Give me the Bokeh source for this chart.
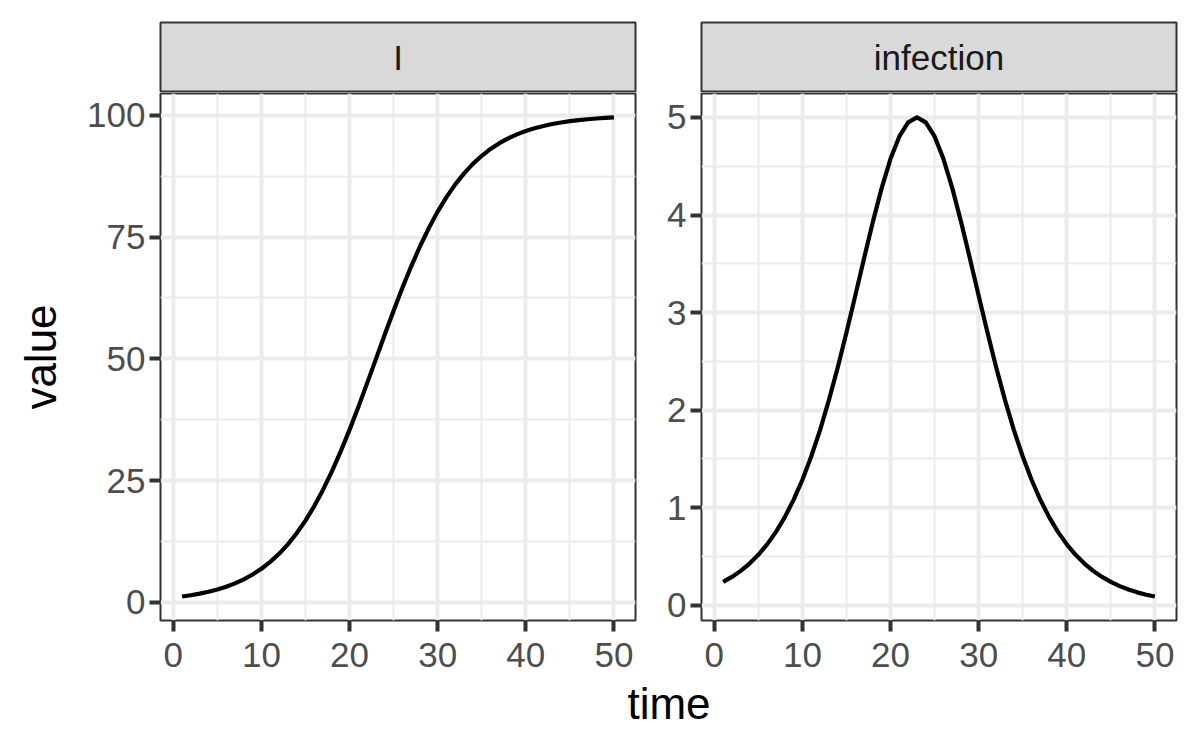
from bokeh.plotting import figure
from bokeh.models import Range1d, FixedTicker
from bokeh.layouts import column, row
from bokeh.embed import file_html
from bokeh.resources import INLINE
from bokeh.core.properties import value

# ---------------- data ----------------
facet_labels = ["I", "infection"]
time = list(range(1, 51))
I_values = [1.21, 1.48, 1.80, 2.19, 2.66, 3.23, 3.92, 4.74, 5.73, 6.91,
            8.32, 9.98, 11.92, 14.19, 16.80, 19.78, 23.15, 26.89, 31.00, 35.43,
            40.13, 45.02, 50.00, 54.98, 59.87, 64.57, 69.00, 73.11, 76.85, 80.22,
            83.20, 85.81, 88.08, 90.02, 91.68, 93.09, 94.27, 95.26, 96.08, 96.77,
            97.34, 97.81, 98.20, 98.52, 98.79, 99.00, 99.18, 99.33, 99.45, 99.55]
infection_values = [0.240, 0.291, 0.353, 0.428, 0.518, 0.625, 0.753, 0.904, 1.081, 1.287,
                    1.525, 1.796, 2.100, 2.435, 2.795, 3.174, 3.558, 3.932, 4.278, 4.576,
                    4.805, 4.950, 5.000, 4.950, 4.805, 4.576, 4.278, 3.932, 3.558, 3.174,
                    2.795, 2.435, 2.100, 1.796, 1.525, 1.287, 1.081, 0.904, 0.753, 0.625,
                    0.518, 0.428, 0.353, 0.291, 0.240, 0.197, 0.162, 0.133, 0.109, 0.090]
x_major = [0, 10, 20, 30, 40, 50]
x_minor = [5, 15, 25, 35, 45]
I_major = [0, 25, 50, 75, 100]
I_minor = [12.5, 37.5, 62.5, 87.5]
inf_major = [0, 1, 2, 3, 4, 5]
inf_minor = [0.5, 1.5, 2.5, 3.5, 4.5]

FONT = value("Liberation Sans")
FRAME_W = 475
FRAME_H = 527
STRIP_H = 70


def expand(vals, frac=0.05):
    lo, hi = min(vals), max(vals)
    pad = (hi - lo) * frac
    return lo - pad, hi + pad


def make_strip(label, bl, br):
    s = figure(frame_width=FRAME_W, frame_height=STRIP_H,
               min_border_left=bl, min_border_right=br,
               min_border_top=22, min_border_bottom=0,
               x_range=Range1d(0, 1), y_range=Range1d(0, 1),
               x_axis_type=None, y_axis_type=None, title=None,
               toolbar_location=None, output_backend="svg")
    s.background_fill_color = "#D9D9D9"
    s.border_fill_color = "white"
    s.outline_line_color = "#333333"
    s.outline_line_width = 2
    s.text(x=[0.5], y=[0.5], text=[label], text_align="center",
           text_baseline="middle", text_font=FONT, text_font_size="35px",
           text_color="#1A1A1A")
    return s


def make_panel(yvals, ymajor, yminor, bl, br):
    x0, x1 = expand(time)
    y0, y1 = expand(yvals)
    p = figure(frame_width=FRAME_W, frame_height=FRAME_H,
               min_border_left=bl, min_border_right=br,
               min_border_top=1, min_border_bottom=60,
               x_range=Range1d(x0, x1), y_range=Range1d(y0, y1),
               title=None, toolbar_location=None, output_backend="svg")
    p.background_fill_color = "white"
    p.border_fill_color = "white"
    p.outline_line_color = "#333333"
    p.outline_line_width = 2

    xt = FixedTicker(ticks=x_major, minor_ticks=x_minor)
    yt = FixedTicker(ticks=ymajor, minor_ticks=yminor)
    p.xaxis.ticker = xt
    p.xgrid.ticker = xt
    p.yaxis.ticker = yt
    p.ygrid.ticker = yt

    for g in (p.xgrid, p.ygrid):
        g.grid_line_color = "#EBEBEB"
        g.grid_line_width = 4
        g.minor_grid_line_color = "#EBEBEB"
        g.minor_grid_line_width = 2

    for ax in p.axis:
        ax.axis_line_color = None
        ax.major_tick_line_color = "#333333"
        ax.major_tick_line_width = 4
        ax.major_tick_out = 11
        ax.major_tick_in = 0
        ax.minor_tick_line_color = None
        ax.major_label_text_font = "Liberation Sans"
        ax.major_label_text_font_size = "35px"
        ax.major_label_text_color = "#4D4D4D"
        ax.major_label_standoff = 4
    p.xaxis.major_label_standoff = 11

    p.line(time, yvals, line_color="black", line_width=4.2, line_join="round")
    return p


s1 = make_strip(facet_labels[0], 160, 2)
p1 = make_panel(I_values, I_major, I_minor, 160, 2)
p1.yaxis.axis_label = "value"
p1.yaxis.axis_label_text_font = "Liberation Sans"
p1.yaxis.axis_label_text_font_size = "44px"
p1.yaxis.axis_label_text_font_style = "normal"
p1.yaxis.axis_label_text_color = "black"
p1.yaxis.axis_label_standoff = 19

s2 = make_strip(facet_labels[1], 64, 8)
p2 = make_panel(infection_values, inf_major, inf_minor, 64, 8)

bottom = figure(frame_width=1184, frame_height=62, min_border=0,
                x_range=Range1d(0, 1184), y_range=Range1d(0, 62),
                x_axis_type=None, y_axis_type=None, title=None,
                toolbar_location=None, output_backend="svg")
bottom.outline_line_color = None
bottom.border_fill_color = "white"
bottom.text(x=[668.5], y=[39], text=["time"], text_align="center",
            text_baseline="middle", text_font=FONT, text_font_size="44px",
            text_color="black")

layout = column(row(column(s1, p1), column(s2, p2)), bottom)

open("out.html", "w").write(file_html(layout, INLINE))
